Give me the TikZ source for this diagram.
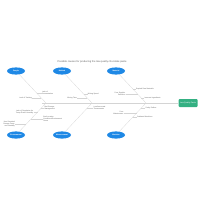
\documentclass[tikz,border=0pt]{standalone}
\usepackage{fontspec}
\setmainfont{Liberation Sans}
\usetikzlibrary{shapes.geometric,positioning}
\definecolor{CatBlue}{RGB}{30,136,229}
\definecolor{EffGreen}{RGB}{52,176,130}
\definecolor{BoneGray}{RGB}{212,212,212}
\definecolor{TxtGray}{RGB}{95,95,95}
\tikzset{
  cat/.style={ellipse, fill=CatBlue, minimum width=9mm, minimum height=3.6mm, inner sep=-0.6mm,
    text=white, font=\fontsize{2.6}{3}\selectfont\bfseries},
  effect/.style={rectangle, rounded corners=0.5mm, fill=EffGreen, minimum width=9.5mm, minimum height=4mm,
    inner sep=0pt, text=white, font=\fontsize{2.8}{3.2}\selectfont},
  bone/.style={draw=BoneGray, line width=0.35pt},
  cause/.style={text=TxtGray, inner sep=0.3pt, font=\fontsize{2.5}{2.9}\selectfont},
}

\begin{document}
\begin{tikzpicture}[x=0.5mm,y=-0.5mm]
  \useasboundingbox (0,0) rectangle (200,200);
  \node[text=TxtGray, font=\fontsize{3.6}{4}\selectfont] (title) at (92,62)
    {Possible causes for producing the low quality chocolate paste};

  % categories
  \node[cat] (people) at (16,71) {People};
  \node[cat] (method) at (62,71) {Method};
  \node[cat] (material) at (116,71) {Material};
  \node[cat] (environment) at (16,135) {Environment};
  \node[cat] (measurement) at (62,135) {Measurement};
  \node[cat] (machine) at (116,135) {Machine};
  \node[effect] (effect) at (188,103) {Low Quality Paste};

  % spine and bones
  \coordinate (tail) at (42,103);
  \coordinate (j1) at (46,103);
  \coordinate (j2) at (92,103);
  \coordinate (j3) at (146,103);
  \draw[bone] (tail) -- (effect);
  \draw[bone] (people) -- (j1);
  \draw[bone] (environment) -- (j1);
  \draw[bone] (method) -- (j2);
  \draw[bone] (measurement) -- (j2);
  \draw[bone] (material) -- (j3);
  \draw[bone] (machine) -- (j3);

  % causes right of a bone
  \foreach \src/\dst/\t/\dx/\txt [count=\k] in {
      people/j1/0.69/2.5/{Lack of\\Concentration},
      method/j2/0.72/2/{Mixing Speed},
      material/j3/0.56/1.5/{Expired Raw Materials},
      material/j3/0.84/1.5/{Incorrect Ingredients},
      environment/j1/0.84/1.5/{Bad Storage\\Management},
      environment/j1/0.5/6/{Bad Location\\Conditions/Environment\\Room},
      measurement/j2/0.84/3/{Low/Inaccurate\\Thermometer},
      machine/j3/0.84/2/{Faulty Refiner},
      machine/j3/0.56/2/{Outdated Machines}} {
    \path (\src.center) -- (\dst) coordinate[pos=\t] (r\k);
    \node[cause, anchor=west, align=left] (cr\k) at ([xshift=\dx mm]r\k) {\txt};
    \draw[bone] (cr\k) -- (r\k);
  }
  % causes left of a bone
  \foreach \src/\dst/\t/\dx/\txt [count=\k] in {
      people/j1/0.84/4.5/{Lack of Training},
      method/j2/0.84/5/{Mixing Time},
      material/j3/0.72/6/{Poor Supplier\\Selection},
      environment/j1/0.72/2/{Lack of Regulation for\\Temp./Room Humidity},
      environment/j1/0.34/5.5/{Non-Standard\\Storage Temp.\\and Humidity},
      machine/j3/0.69/6.5/{Poor\\Maintenance}} {
    \path (\src.center) -- (\dst) coordinate[pos=\t] (l\k);
    \node[cause, anchor=east, align=right] (cl\k) at ([xshift=-\dx mm]l\k) {\txt};
    \draw[bone] (cl\k) -- (l\k);
  }
\end{tikzpicture}
\end{document}
